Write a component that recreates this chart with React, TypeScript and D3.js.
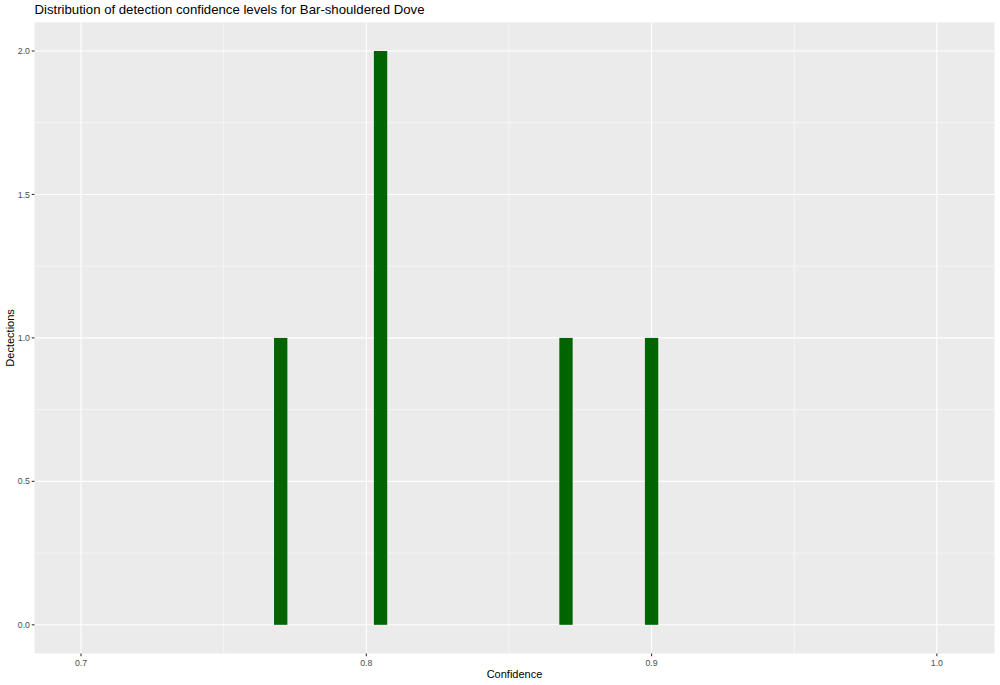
import React from "react";
import * as d3 from "d3";

const title = "Distribution of detection confidence levels for Bar-shouldered Dove";
const xLabel = "Confidence";
const yLabel = "Dectections";
const binCenters = [0.77, 0.805, 0.87, 0.9];
const binCounts = [1, 2, 1, 1];
const binWidth = 0.00467;
const xTicks = [0.7, 0.8, 0.9, 1.0];
const xMinor = [0.75, 0.85, 0.95];
const yTicks = [0, 0.5, 1.0, 1.5, 2.0];
const yMinor = [0.25, 0.75, 1.25, 1.75];

const W = 1000;
const H = 685;
const panel = { left: 34.5, right: 994.5, top: 22.3, bottom: 653.5 };

export default function App() {
  const x = d3.scaleLinear().domain([0.6837, 1.0202]).range([panel.left, panel.right]);
  const y = d3.scaleLinear().domain([-0.1, 2.1]).range([panel.bottom, panel.top]);
  const font = "'Liberation Sans', Arial, Helvetica, sans-serif";
  return (
    <svg width={W} height={H} style={{ position: "absolute", left: 0, top: 0, background: "#fff" }} fontFamily={font}>
      <rect x={panel.left} y={panel.top} width={panel.right - panel.left} height={panel.bottom - panel.top} fill="#EBEBEB" />
      {xMinor.map((v) => (
        <line key={"xm" + v} x1={x(v)} x2={x(v)} y1={panel.top} y2={panel.bottom} stroke="#fff" strokeWidth={0.55} />
      ))}
      {yMinor.map((v) => (
        <line key={"ym" + v} x1={panel.left} x2={panel.right} y1={y(v)} y2={y(v)} stroke="#fff" strokeWidth={0.55} />
      ))}
      {xTicks.map((v) => (
        <line key={"xg" + v} x1={x(v)} x2={x(v)} y1={panel.top} y2={panel.bottom} stroke="#fff" strokeWidth={1.1} />
      ))}
      {yTicks.map((v) => (
        <line key={"yg" + v} x1={panel.left} x2={panel.right} y1={y(v)} y2={y(v)} stroke="#fff" strokeWidth={1.1} />
      ))}
      {binCenters.map((c, i) => (
        <rect
          key={"b" + i}
          x={x(c - binWidth / 2)}
          y={y(binCounts[i])}
          width={x(c + binWidth / 2) - x(c - binWidth / 2)}
          height={y(0) - y(binCounts[i])}
          fill="#006400"
        />
      ))}
      {xTicks.map((v) => (
        <g key={"xt" + v}>
          <line x1={x(v)} x2={x(v)} y1={panel.bottom} y2={panel.bottom + 2.75} stroke="#333" strokeWidth={1.1} />
          <text x={x(v)} y={panel.bottom + 12} textAnchor="middle" fontSize={8.8} fill="#4D4D4D">
            {d3.format(".1f")(v)}
          </text>
        </g>
      ))}
      {yTicks.map((v) => (
        <g key={"yt" + v}>
          <line x1={panel.left - 2.75} x2={panel.left} y1={y(v)} y2={y(v)} stroke="#333" strokeWidth={1.1} />
          <text x={panel.left - 4.5} y={y(v)} dy="0.35em" textAnchor="end" fontSize={8.8} fill="#4D4D4D">
            {d3.format(".1f")(v)}
          </text>
        </g>
      ))}
      <text x={(panel.left + panel.right) / 2} y={678} textAnchor="middle" fontSize={11} fill="#000">
        {xLabel}
      </text>
      <text
        transform={`translate(14,${(panel.top + panel.bottom) / 2}) rotate(-90)`}
        textAnchor="middle"
        fontSize={11}
        fill="#000"
      >
        {yLabel}
      </text>
      <text x={panel.left} y={14} fontSize={13.2} fill="#000">
        {title}
      </text>
    </svg>
  );
}
